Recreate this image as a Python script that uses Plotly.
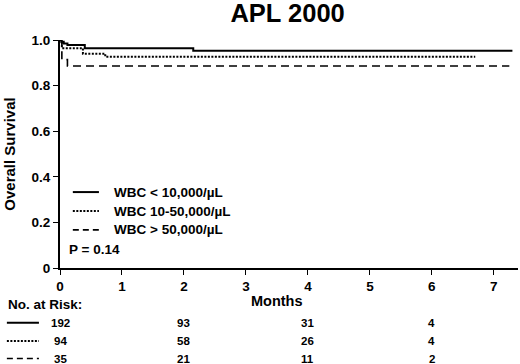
import plotly.graph_objects as go

# Data
series_names = ["WBC < 10,000/µL", "WBC 10-50,000/µL", "WBC > 50,000/µL"]
t_low = [0, 0.02, 0.06, 0.12, 0.4, 2.15, 7.3]
s_low = [1.0, 0.992, 0.985, 0.978, 0.964, 0.953, 0.953]
t_mid = [0, 0.03, 0.37, 0.73, 6.7]
s_mid = [1.0, 0.964, 0.94, 0.927, 0.927]
t_high = [0, 0.03, 0.12, 7.25]
s_high = [1.0, 0.914, 0.886, 0.886]

risk_months = [0, 2, 4, 6]
risk_low = [192, 93, 31, 4]
risk_mid = [94, 58, 26, 4]
risk_high = [35, 21, 11, 2]

x_ticks = [0, 1, 2, 3, 4, 5, 6, 7]
y_ticks = [0, 0.2, 0.4, 0.6, 0.8, 1.0]
y_ticklabels = ["0", "0.2", "0.4", "0.6", "0.8", "1.0"]
p_value_text = "P = 0.14"

FONT = "Arial, Liberation Sans, sans-serif"
dash_styles = ["solid", "2px,1.5px", "8px,5px"]
legend_dash = ["solid", "2px,1.5px", "6px,4px"]
widths = [2, 2, 1.6]


def bold(size):
    return dict(family=FONT, size=size, color="black", weight="bold")


fig = go.Figure()
for name, t, s, d, w in zip(series_names, [t_low, t_mid, t_high], [s_low, s_mid, s_high], dash_styles, widths):
    fig.add_trace(go.Scatter(x=t, y=s, mode="lines", name=name, showlegend=False,
                             line=dict(color="black", width=w, dash=d, shape="hv")))

# in-plot legend
legend_rows = [0.333, 0.25, 0.167]
for name, ly, d, w in zip(series_names, legend_rows, legend_dash, widths):
    fig.add_shape(type="line", xref="paper", yref="paper", x0=0.028, x1=0.085, y0=ly, y1=ly,
                  line=dict(color="black", width=w, dash=d))
    fig.add_annotation(x=0.1135, y=ly, xref="paper", yref="paper", text=name, showarrow=False,
                       xanchor="left", yanchor="middle", font=bold(13.5))
fig.add_annotation(x=0.015, y=0.079, xref="paper", yref="paper", text=p_value_text,
                   showarrow=False, xanchor="left", yanchor="middle", font=bold(13.5))

# at-risk table
rows_y = [-0.24, -0.32, -0.397]
for risk, ry, d, w in zip([risk_low, risk_mid, risk_high], rows_y, legend_dash, widths):
    for m, v in zip(risk_months, risk):
        fig.add_annotation(x=m, y=ry, xref="x", yref="paper", text=str(v), showarrow=False,
                           xanchor="center", yanchor="middle", font=bold(11.5))
    fig.add_shape(type="line", xref="paper", yref="paper", x0=-0.116, x1=-0.046, y0=ry, y1=ry,
                  line=dict(color="black", width=w, dash=d))

fig.add_annotation(x=-0.118, y=-0.162, xref="paper", yref="paper", text="No. at Risk:",
                   showarrow=False, xanchor="left", yanchor="middle", font=bold(13.5))
fig.add_annotation(x=3.5, y=-0.145, xref="x", yref="paper", text="Months",
                   showarrow=False, xanchor="center", yanchor="middle", font=bold(14.5))

fig.update_layout(
    width=520, height=364,
    margin=dict(l=60, r=2, t=40, b=96),
    paper_bgcolor="white", plot_bgcolor="white",
    title=dict(text="APL 2000", x=0.497, xref="paper", xanchor="center", y=0.965, yanchor="middle",
               font=bold(25.5)),
    showlegend=False,
    font=dict(family=FONT, color="black"),
)
fig.update_xaxes(range=[0, 7.39], tickvals=x_ticks, ticks="outside", ticklen=5, tickwidth=1,
                 tickcolor="black", showline=True, linecolor="black", linewidth=2,
                 showgrid=False, zeroline=False, tickfont=bold(13.5))
fig.update_yaxes(range=[0, 1.0], tickvals=y_ticks, ticktext=y_ticklabels, ticks="outside",
                 ticklen=5, tickwidth=1, tickcolor="black", showline=True, linecolor="black",
                 linewidth=2, showgrid=False, zeroline=False,
                 title=dict(text="Overall Survival", standoff=12, font=bold(15)),
                 tickfont=bold(13.5))

fig.write_html("out.html", config={"displayModeBar": False},
               post_script="document.body.style.margin='0px';")
